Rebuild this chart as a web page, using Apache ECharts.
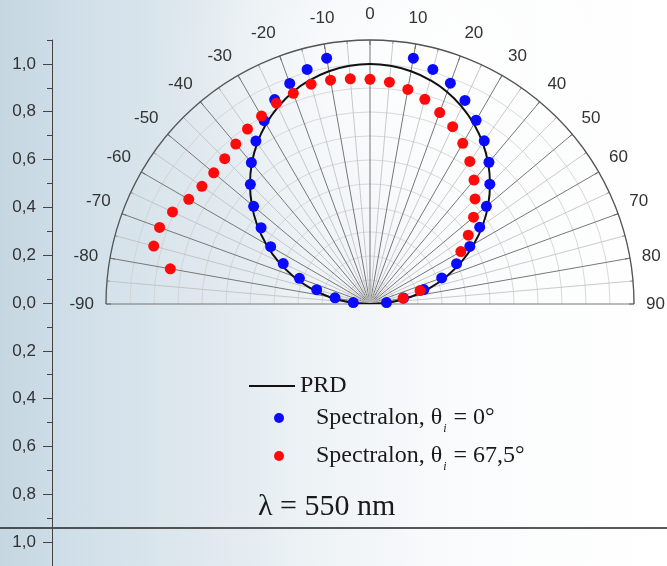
<!DOCTYPE html>
<html>
<head>
<meta charset="utf-8">
<script src="https://cdn.jsdelivr.net/npm/echarts@6/dist/echarts.min.js"></script>
<style>
html,body{margin:0;padding:0;}
body{width:667px;height:566px;overflow:hidden;
background:
 radial-gradient(ellipse 260px 200px at 420px 60px, rgba(255,255,255,0.85), rgba(255,255,255,0) 100%),
 linear-gradient(90deg,#c6d7e2 0%,#d3e1ea 15%,#dfe8ee 30%,#eef3f6 48%,#fafbfc 68%,#ffffff 100%);}
#chart{width:667px;height:566px;}
</style>
</head>
<body>
<div id="chart"></div>
<script>
// ---- data ----
const angleTicks = [-90,-80,-70,-60,-50,-40,-30,-20,-10,0,10,20,30,40,50,60,70,80,90];
const leftMajorTicks = [1.0,0.8,0.6,0.4,0.2,0,-0.2,-0.4,-0.6,-0.8,-1.0];
const leftMinorTicks = [1.1,0.9,0.7,0.5,0.3,0.1,-0.1,-0.3,-0.5,-0.7,-0.9,-1.1];

const prdAngles = [-90,-85,-80,-75,-70,-65,-60,-55,-50,-45,-40,-35,-30,-25,-20,-15,-10,-5,0,5,10,15,20,25,30,35,40,45,50,55,60,65,70,75,80,85,90];
const prdValues = [0,0.087,0.174,0.259,0.342,0.423,0.5,0.574,0.643,0.707,0.766,0.819,0.866,0.906,0.940,0.966,0.985,0.996,1.0,0.996,0.985,0.966,0.940,0.906,0.866,0.819,0.766,0.707,0.643,0.574,0.5,0.423,0.342,0.259,0.174,0.087,0];

const blueAngles = [-85,-80,-75,-70,-65,-60,-55,-50,-45,-40,-35,-30,-25,-20,-15,-10,10,15,20,25,30,35,40,45,50,55,60,65,70,75,80,85];
const blueValues = [0.070,0.148,0.230,0.313,0.399,0.478,0.554,0.633,0.705,0.769,0.829,0.882,0.940,0.978,1.012,1.040,1.040,1.012,0.979,0.936,0.884,0.830,0.771,0.706,0.633,0.558,0.480,0.398,0.318,0.232,0.142,0.069];

const redAngles = [-80,-75,-70,-65,-60,-55,-50,-45,-40,-35,-30,-25,-20,-15,-10,-5,0,5,10,15,20,25,30,35,40,45,50,55,60,75,80];
const redValues = [0.845,0.933,0.933,0.908,0.872,0.855,0.850,0.856,0.870,0.890,0.904,0.923,0.934,0.948,0.947,0.942,0.936,0.928,0.908,0.883,0.849,0.815,0.773,0.725,0.674,0.619,0.563,0.500,0.437,0.216,0.140];

const seriesNames = ['PRD', 'S0', 'S67'];
const legendTexts = {
  'PRD': '{n|PRD}',
  'S0': '{n|Spectralon, θ}{s|i}{n| = 0°}',
  'S67': '{n|Spectralon, θ}{s|i}{n| = 67,5°}'
};
const lambdaText = 'λ = 550 nm';

// ---- build ----
const pairs = (rs, as) => rs.map((r, i) => [r, as[i]]);
const serif = 'Liberation Serif, Times New Roman, serif';
const sans = 'Liberation Sans, Arial, sans-serif';
const richText = {
  n: {fontFamily: serif, fontSize: 24, color: '#1a1a1a', lineHeight: 26},
  s: {fontFamily: serif, fontSize: 12, fontStyle: 'italic', color: '#1a1a1a', lineHeight: 12, padding: [22,1,0,1]}
};

const chart = echarts.init(document.getElementById('chart'), null, {renderer: 'canvas'});
chart.setOption({
  backgroundColor: 'transparent',
  animation: false,
  polar: {center: [370, 304], radius: 264},
  angleAxis: {
    type: 'value', min: -90, max: 90, interval: 10,
    startAngle: 180, endAngle: 0, clockwise: true,
    axisLine: {show: true, lineStyle: {color: '#555', width: 1.3}},
    axisTick: {show: true, inside: true, length: 5, lineStyle: {color: '#555'}},
    minorTick: {show: true, splitNumber: 2, length: 3, lineStyle: {color: '#777'}},
    splitLine: {show: true, lineStyle: {color: '#777', width: 1}},
    minorSplitLine: {show: true, lineStyle: {color: '#bdbdbd', width: 0.8}},
    axisLabel: {
      margin: 12, color: '#333', fontFamily: sans, fontSize: 17,
      formatter: v => Math.abs(v) <= 10 ? '{t|' + v + '}' : (Math.abs(v) <= 20 ? '{u|' + v + '}' : String(v)),
      rich: {
        t: {fontFamily: sans, fontSize: 17, color: '#333', padding: [0,0,5,0]},
        u: {fontFamily: sans, fontSize: 17, color: '#333', padding: [0,0,3,0]}
      }
    }
  },
  radiusAxis: {
    type: 'value', min: 0, max: 1.1, interval: 0.1,
    axisLine: {show: false}, axisTick: {show: false}, axisLabel: {show: false},
    splitLine: {show: true, lineStyle: {color: '#cfcfcf', width: 0.8}}
  },
  grid: {left: 52, top: 40, width: 10, height: 528},
  xAxis: {type: 'value', show: false},
  yAxis: [{
    type: 'value', min: -1.1, max: 1.1, position: 'left',
    axisLine: {show: true, onZero: false, lineStyle: {color: '#444', width: 1}},
    axisTick: {show: true, length: 9, customValues: leftMajorTicks, lineStyle: {color: '#444'}},
    axisLabel: {show: true, margin: 16, customValues: leftMajorTicks, color: '#333', fontFamily: sans, fontSize: 17,
      formatter: v => Math.abs(v).toFixed(1).replace('.', ',')},
    splitLine: {show: false}
  }, {
    type: 'value', min: -1.1, max: 1.1, position: 'left',
    axisLine: {show: false},
    axisTick: {show: true, length: 5, customValues: leftMinorTicks, lineStyle: {color: '#444'}},
    axisLabel: {show: false},
    splitLine: {show: false}
  }],
  legend: [{
    data: [{name: 'PRD', icon: 'rect'}], orient: 'vertical', left: 244, top: 369,
    itemWidth: 46, itemHeight: 2, itemGap: 0,
    formatter: n => legendTexts[n],
    textStyle: {rich: richText}
  }, {
    data: ['S0', 'S67'], orient: 'vertical', left: 269, top: 396,
    itemWidth: 64, itemHeight: 10, itemGap: 4,
    formatter: n => legendTexts[n],
    textStyle: {rich: richText}
  }],
  title: {
    text: lambdaText, left: 253, top: 487,
    textStyle: {fontFamily: serif, fontSize: 30, fontWeight: 'normal', color: '#1a1a1a'}
  },
  graphic: [{
    type: 'line', shape: {x1: 0, y1: 528, x2: 667, y2: 528},
    style: {stroke: '#222', lineWidth: 1.5}, silent: true
  }],
  series: [{
    name: seriesNames[0], type: 'line', coordinateSystem: 'polar',
    data: pairs(prdValues, prdAngles), smooth: true, showSymbol: false, symbol: 'none',
    lineStyle: {color: '#111', width: 2}, itemStyle: {color: '#111'}, z: 3
  }, {
    name: seriesNames[1], type: 'scatter', coordinateSystem: 'polar',
    data: pairs(blueValues, blueAngles), symbolSize: 11,
    itemStyle: {color: '#0a0aff', opacity: 1}, z: 4
  }, {
    name: seriesNames[2], type: 'scatter', coordinateSystem: 'polar',
    data: pairs(redValues, redAngles), symbolSize: 11,
    itemStyle: {color: '#ff0a0a', opacity: 1}, z: 5
  }]
});
</script>
</body>
</html>
